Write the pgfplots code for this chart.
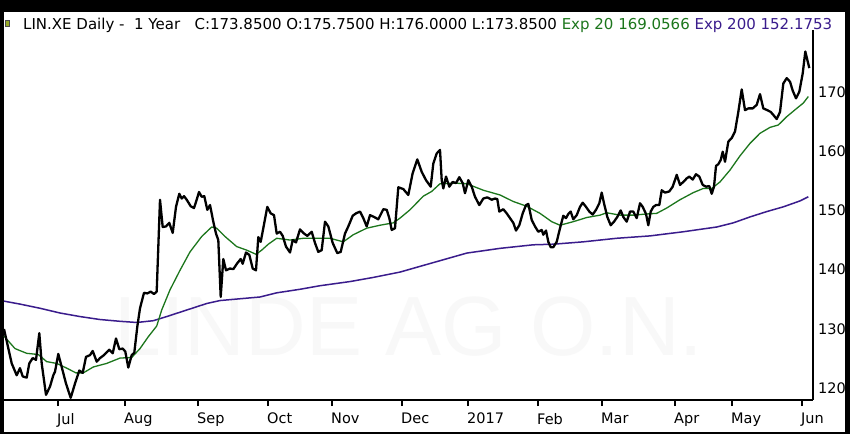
\documentclass[border=0pt]{standalone}
\usepackage{pgfplots}
\pgfplotsset{compat=1.18}
\usepackage{fontspec}
\setmainfont{DejaVu Sans}
\newfontfamily\wmfont{Liberation Sans}
\definecolor{emagreen}{RGB}{28,118,28}
\definecolor{emapurple}{RGB}{58,28,140}
\definecolor{wm}{RGB}{248,248,248}
\definecolor{icon}{RGB}{150,170,40}
\begin{document}
\begin{tikzpicture}[x=1pt,y=1pt]
\fill[black] (0,0) rectangle (850,434);
\fill[white] (3.5,2.5) rectangle (845,422);
\node[font=\wmfont\fontsize{84}{84}\selectfont, text=wm] at (409,107) {LINDE AG O.N.};
\fill[icon, draw=black!70, line width=0.6pt] (5,408) rectangle (9.5,413.5);
\node[anchor=base west, inner sep=0pt, font=\fontsize{15}{15}\selectfont] at (23,404)
  {LIN.XE Daily -\ \ 1 Year\ \ \ C:173.8500 O:175.7500 H:176.0000 L:173.8500 \textcolor{emagreen}{Exp 20 169.0566} \textcolor{emapurple}{Exp 200 152.1753}};
\begin{axis}[at={(3.5pt,34pt)}, anchor=south west, scale only axis,
  width=809.5pt, height=370pt,
  xmin=3.5, xmax=813, ymin=118.03, ymax=180.42,
  axis x line*=bottom, axis y line*=right,
  axis line style={-, line width=2pt, black},
  tick align=outside,
  xtick={58,125,198,268,332,402,468,538,602,675,732,802},
  xticklabels={Jul,Aug,Sep,Oct,Nov,Dec,2017,Feb,Mar,Apr,May,Jun},
  x tick style={line width=2pt, black},
  major tick length=6pt,
  ytick={120,130,140,150,160,170},
  y tick style={draw=none},
  yticklabel pos=right,
  /pgf/number format/assume math mode=true,
  ticklabel style={font=\fontsize{14.5}{14.5}\selectfont},
  xticklabel style={anchor=north west, inner sep=0pt, xshift=-1pt, yshift=-7pt},
  yticklabel style={anchor=west, inner sep=0pt, xshift=-1pt},
  ]
\addplot[emapurple, line width=1.5pt] coordinates {(4,134.7)(20,134.2)(40,133.5)(60,132.7)(80,132.1)(100,131.6)(120,131.3)(136.7,131.1)(153.3,131.4)(166.7,132.1)(186.7,133.2)(206.7,134.3)(220,134.8)(240,135.1)(260,135.4)(276.7,136.1)(300,136.7)(320,137.3)(350,138.0)(373.3,138.7)(400,139.6)(433.3,141.2)(466.7,142.8)(500,143.6)(533.3,144.2)(553.3,144.3)(583.3,144.7)(616.7,145.3)(650,145.7)(683.3,146.4)(716.7,147.2)(733.3,147.9)(750,148.9)(766.7,149.8)(783.3,150.6)(800,151.6)(808.3,152.3)};
\addplot[emagreen, line width=1.3pt] coordinates {(4,128.8)(15,126.7)(26.7,125.9)(38.3,125.7)(46.7,124.5)(56.7,124.2)(66.7,123.4)(76,122.6)(83.3,122.6)(93.3,123.6)(106.7,124.2)(120,125.1)(131.7,125.2)(140,126.7)(148.3,128.7)(156.7,130.5)(161.7,133.2)(170,136.6)(180,139.9)(190,143.0)(201.7,145.6)(211.7,147.2)(216.7,147.0)(225,145.6)(236.7,143.9)(246.7,143.3)(256,142.6)(261.7,143.3)(268.3,144.3)(276.7,145.3)(290,145.0)(303.3,145.3)(316.7,145.3)(330,145.3)(343.3,144.7)(353.3,145.9)(366.7,147.0)(380,147.5)(393.3,147.9)(400,148.7)(410,150.1)(423.3,152.4)(431.7,153.2)(440,154.5)(453.3,154.6)(466.7,154.5)(483.3,153.4)(500,152.6)(513.3,151.5)(526.7,150.7)(540,149.5)(551.7,148.1)(560,147.5)(573.3,148.1)(586.7,148.8)(600,149.2)(606.7,149.6)(620,149.2)(633.3,149.2)(646.7,149.4)(656.7,149.5)(666.7,150.4)(680,151.8)(693.3,153.0)(703.3,153.7)(711.7,153.7)(720,154.8)(730,156.8)(740,159.2)(750,161.3)(760,163.0)(770,164.0)(778.3,164.4)(786.7,165.8)(796.7,167.2)(803.3,168.1)(808.3,169.2)};
\addplot[black, line width=2.3pt, line join=round] coordinates {(4,130.0)(11.7,124.2)(16.7,122.2)(20,123.4)(22.7,122.0)(26.7,121.8)(29.3,124.2)(32.7,125.1)(36,124.8)(39.3,129.3)(41.7,124.2)(46,118.9)(50,120.3)(53.3,122.2)(55,122.8)(58.3,125.8)(61.7,123.6)(66,120.8)(70.7,118.4)(75,120.8)(79.3,123.0)(82.7,122.6)(86,125.3)(90,125.6)(92.7,126.3)(96.7,124.5)(100,125.1)(104,125.6)(109.3,126.5)(112.7,125.9)(116,128.4)(119.3,126.6)(122.7,126.7)(125.3,126.2)(128.3,123.5)(131.7,125.6)(134.3,126.0)(137.3,130.4)(140,133.5)(144,136.1)(147.3,136.0)(150.7,136.3)(154,135.9)(156.7,136.3)(160,151.8)(162.7,147.2)(166,147.3)(169.3,147.9)(172.7,146.2)(176,150.6)(179.3,152.8)(181.7,152.0)(184,152.4)(186.7,151.8)(190.7,150.7)(194,150.4)(196.7,151.8)(199,153.1)(201.7,152.3)(204.3,152.4)(207.3,150.1)(210,150.9)(213.3,148.1)(216,146.1)(218.3,145.0)(220.7,135.4)(223.3,141.8)(226,139.9)(230,140.2)(233.3,140.1)(237.3,141.1)(240.7,141.8)(242.7,141.0)(246,142.9)(249.3,142.5)(252.7,140.2)(256,139.9)(258.3,145.5)(260.7,144.7)(263.3,147.0)(267.3,150.6)(270.7,149.5)(274,149.2)(276.7,146.1)(280,146.4)(282.7,145.7)(286,143.9)(290,142.9)(292.7,145.0)(296,144.6)(300,146.8)(303.3,146.2)(307.3,145.7)(311.7,146.4)(315,144.5)(318.3,143.0)(321.7,143.3)(325,148.1)(328.3,147.3)(332.7,144.5)(337.3,142.8)(340.7,143.0)(345,146.1)(348.3,147.3)(352.7,149.1)(356,149.5)(360,149.8)(363.3,148.7)(366.7,147.3)(370,149.2)(374,148.9)(378.3,148.5)(383.3,150.2)(386.7,150.1)(389.3,148.7)(391.7,146.7)(395,147.0)(398.3,153.9)(403.3,153.6)(408.3,152.6)(412.7,156.3)(417.3,158.6)(421.7,156.5)(426,155.1)(430.7,154.0)(433.3,157.9)(436.7,159.6)(440,160.2)(441.7,155.1)(443.3,153.7)(446,155.7)(449.3,154.0)(452.7,154.8)(456,154.6)(459.3,155.6)(462.7,154.6)(465,152.9)(468.3,155.1)(471.7,154.0)(475,152.3)(479.3,150.9)(483.3,152.0)(487.3,152.2)(491.7,151.8)(495,152.0)(497.3,151.9)(499.3,149.8)(503.3,150.2)(506.7,149.5)(510,148.7)(513.3,147.9)(516,146.6)(519.3,147.5)(522.7,149.5)(526,150.9)(528.3,151.1)(531.7,148.4)(535,147.3)(538.3,146.4)(541.7,146.7)(543.3,145.9)(546,146.6)(548.3,144.7)(550.7,143.8)(553.3,143.8)(556.7,144.7)(560,147.0)(563.3,149.1)(566,148.7)(568.3,149.4)(570.7,149.8)(573.3,148.5)(576.7,149.2)(580,150.6)(582.7,151.3)(586,150.6)(589.3,149.8)(592.7,149.3)(596,150.1)(599.3,151.2)(601.7,153.0)(604,151.2)(607.3,148.9)(610.7,147.5)(614,148.1)(617.3,148.9)(620.7,150.0)(623.3,148.9)(626.7,148.1)(630,149.8)(633.3,149.8)(636.7,148.7)(640,151.2)(642.7,150.6)(646,149.4)(648.3,147.5)(650.7,149.8)(653.3,150.6)(656,150.9)(659.3,150.9)(661.7,153.4)(665,153.0)(669.3,153.2)(672.7,154.0)(676.7,156.0)(680,154.3)(683.3,154.8)(686.7,155.4)(689.3,155.7)(692.7,155.2)(696,156.1)(699.3,155.7)(702.7,154.3)(706,154.0)(709.3,154.1)(711.7,152.8)(714,154.0)(716,157.5)(718.3,157.8)(720.7,158.5)(722.7,159.9)(725,158.2)(728.3,161.6)(731.7,162.2)(735,163.3)(738.3,166.6)(741.7,170.4)(745,166.9)(748.3,167.2)(752.7,167.2)(756.7,167.8)(760,169.6)(763.3,167.2)(767.3,166.9)(770.7,166.6)(773.3,166.1)(776.7,165.4)(780,166.6)(783.3,171.4)(786.7,172.3)(790,171.7)(792.7,170.2)(796,168.9)(799.3,170.0)(802.7,173.1)(805.3,176.8)(809.3,174.0)};
\end{axis}
\pgfresetboundingbox
\path[use as bounding box] (0,0) rectangle (850,434);
\end{tikzpicture}
\end{document}
